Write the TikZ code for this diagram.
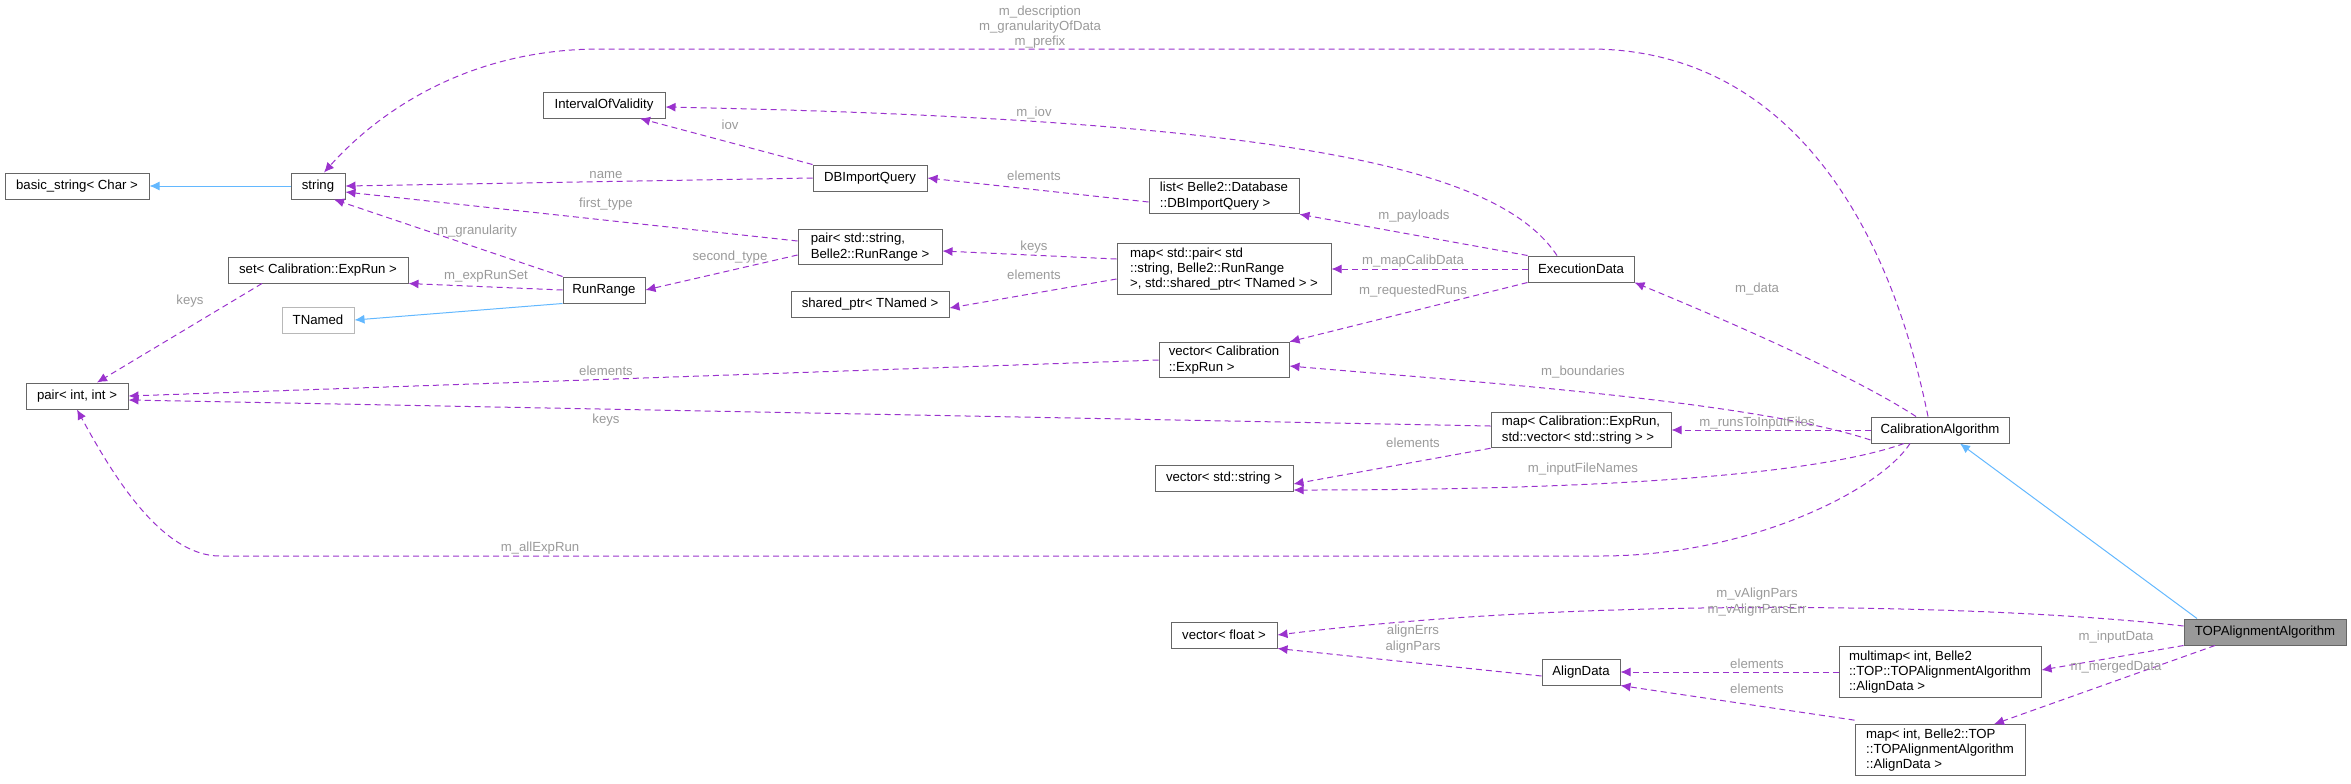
\documentclass[tikz,border=0pt]{standalone}
\usepackage{fontspec}
\setmainfont{Liberation Sans}
\usetikzlibrary{arrows.meta}
\definecolor{dep}{HTML}{9A32CD}
\definecolor{inh}{HTML}{63B8FF}
\definecolor{lblc}{HTML}{9A9A9A}
\definecolor{bord}{HTML}{666666}
\begin{document}
\begin{tikzpicture}[x=0.5pt,y=-0.5pt,
  box/.style={draw=bord,fill=white,line width=0.5pt,minimum height=13pt,inner sep=2pt,font=\fontsize{6.6}{7.6}\selectfont,align=left},
  lbl/.style={text=lblc,font=\fontsize{6.6}{7.6}\selectfont,align=center,inner sep=0pt},
  dp/.style={draw=dep,dashed,dash pattern=on 3pt off 2pt,line width=0.5pt,-{Latex[length=5pt,width=4.5pt]}},
  ih/.style={draw=inh,line width=0.5pt,-{Latex[length=5pt,width=4.5pt]}}]
\useasboundingbox (0,0) rectangle (2351,783);
% nodes
\node[box,minimum width=72pt] (bs) at (77,186) {basic\_string< Char >};
\node[box,minimum width=27pt] (str) at (318,186) {string};
\node[box,minimum width=61pt] (iov) at (604,105) {IntervalOfValidity};
\node[box,minimum width=57pt] (dbq) at (870,178) {DBImportQuery};
\node[box,minimum width=72pt] (pstr) at (870,247) {pair< std::string,\\ Belle2::RunRange >};
\node[box,minimum width=90pt] (set) at (318,270) {set< Calibration::ExpRun >};
\node[box,minimum width=41pt] (rr) at (604,290) {RunRange};
\node[box,draw=lblc!70,minimum width=36pt] (tn) at (318,320) {TNamed};
\node[box,minimum width=79pt] (sp) at (870,304) {shared\_ptr< TNamed >};
\node[box,minimum width=51pt] (pii) at (77,396) {pair< int, int >};
\node[box,minimum width=75pt] (lst) at (1224,196) {list< Belle2::Database\\ ::DBImportQuery >};
\node[box,minimum width=107pt] (mp) at (1224,269) {map< std::pair< std\\ ::string, Belle2::RunRange\\ >, std::shared\_ptr< TNamed > >};
\node[box,minimum width=53pt] (ex) at (1581,269) {ExecutionData};
\node[box,minimum width=65pt] (ve) at (1224,360) {vector< Calibration\\ ::ExpRun >};
\node[box,minimum width=90pt] (me) at (1581,430) {map< Calibration::ExpRun,\\ std::vector< std::string > >};
\node[box,minimum width=69pt] (ca) at (1940,430) {CalibrationAlgorithm};
\node[box,minimum width=69pt] (vs) at (1224,478) {vector< std::string >};
\node[box,minimum width=53pt] (vf) at (1224,635) {vector< float >};
\node[box,minimum width=39pt] (ad) at (1581,672) {AlignData};
\node[box,minimum width=101pt] (mm) at (1940,672) {multimap< int, Belle2\\ ::TOP::TOPAlignmentAlgorithm\\ ::AlignData >};
\node[box,minimum width=85pt] (mt) at (1940,750) {map< int, Belle2::TOP\\ ::TOPAlignmentAlgorithm\\ ::AlignData >};
\node[box,fill=black!40,minimum width=81pt] (top) at (2265,632) {TOPAlignmentAlgorithm};
% inheritance
\draw[ih] (str.west) -- (bs.east);
\draw[ih] (rr.south west) -- (tn.east);
\draw[ih] ([xshift=-34pt]top.north) -- ([xshift=10pt]ca.south);
% dependencies
\draw[dp] ([xshift=-6pt]ca.north) .. controls (1880,180) and (1760,49) .. (1590,49) -- (600,49) .. controls (470,49) and (380,110) .. ([xshift=3pt]str.north);
\draw[dp] ([xshift=-12pt]ca.north) .. controls (1860,380) and (1750,330) .. (ex.south east);
\draw[dp] ([yshift=-5pt]ca.west) .. controls (1750,400) and (1450,380) .. ([yshift=-3pt]ve.east);
\draw[dp] (ca.west) -- (me.east);
\draw[dp] ([xshift=-18pt]ca.south) .. controls (1830,470) and (1650,490) .. ([yshift=-6pt]vs.east);
\draw[dp] ([xshift=-15pt]ca.south) .. controls (1880,490) and (1750,556) .. (1600,556) -- (220,556) .. controls (160,556) and (110,470) .. (pii.south);
\draw[dp] ([xshift=-12pt]ex.north) .. controls (1500,170) and (1300,120) .. ([yshift=-1pt]iov.east);
\draw[dp] (ex.north west) -- (lst.south east);
\draw[dp] (ex.west) -- (mp.east);
\draw[dp] (ex.south west) -- (ve.north east);
\draw[dp] ([yshift=-3pt]lst.west) -- (dbq.east);
\draw[dp] ([yshift=5pt]mp.west) -- ([yshift=-2pt]pstr.east);
\draw[dp] ([yshift=-5pt]mp.west) -- ([yshift=-2pt]sp.east);
\draw[dp] (ve.west) -- (pii.east);
\draw[dp] ([yshift=2pt]me.west) -- ([yshift=-2pt]pii.east);
\draw[dp] (me.south west) -- ([yshift=-3pt]vs.east);
\draw[dp] (dbq.north west) -- ([xshift=18pt]iov.south);
\draw[dp] (dbq.west) -- (str.east);
\draw[dp] ([yshift=3pt]pstr.west) -- ([yshift=-3pt]str.east);
\draw[dp] ([yshift=-4pt]pstr.west) -- (rr.east);
\draw[dp] (rr.north west) -- ([xshift=8pt]str.south);
\draw[dp] (rr.west) -- (set.south east);
\draw[dp] ([xshift=-28pt]set.south) -- ([xshift=10pt]pii.north);
\draw[dp] ([yshift=3pt]top.west) .. controls (2000,605) and (1600,595) .. (vf.east);
\draw[dp] (top.south west) -- ([yshift=1pt]mm.east);
\draw[dp] ([xshift=-25pt]top.south) -- ([xshift=27pt]mt.north);
\draw[dp] ([yshift=-2pt]ad.west) -- (vf.south east);
\draw[dp] (mm.west) -- (ad.east);
\draw[dp] ([yshift=2pt]mt.north west) -- (ad.south east);
% labels
\node[lbl] (l1) at (1040,27) {m\_description\\ m\_granularityOfData\\ m\_prefix};
\node[lbl] (l2) at (1034,113) {m\_iov};
\node[lbl] (l3) at (1414,216) {m\_payloads};
\node[lbl] (l4) at (1413,261) {m\_mapCalibData};
\node[lbl] (l5) at (1413,291) {m\_requestedRuns};
\node[lbl] (l6) at (1757,289) {m\_data};
\node[lbl] (l7) at (1583,372) {m\_boundaries};
\node[lbl] (l8) at (1757,423) {m\_runsToInputFiles};
\node[lbl] (l9) at (1034,176) {elements};
\node[lbl] (l10) at (1034,247) {keys};
\node[lbl] (l11) at (1034,275) {elements};
\node[lbl] (l12) at (1413,443) {elements};
\node[lbl] (l13) at (1583,469) {m\_inputFileNames};
\node[lbl] (l14) at (606,371) {elements};
\node[lbl] (l15) at (606,420) {keys};
\node[lbl] (l16) at (540,548) {m\_allExpRun};
\node[lbl] (l17) at (730,125) {iov};
\node[lbl] (l18) at (606,175) {name};
\node[lbl] (l19) at (606,204) {first\_type};
\node[lbl] (l20) at (477,231) {m\_granularity};
\node[lbl] (l21) at (730,257) {second\_type};
\node[lbl] (l22) at (486,276) {m\_expRunSet};
\node[lbl] (l23) at (190,301) {keys};
\node[lbl] (l24) at (1757,602) {m\_vAlignPars\\ m\_vAlignParsErr};
\node[lbl] (l25) at (1413,639) {alignErrs\\ alignPars};
\node[lbl] (l26) at (1757,664) {elements};
\node[lbl] (l27) at (1757,689) {elements};
\node[lbl] (l28) at (2116,637) {m\_inputData};
\node[lbl] (l29) at (2116,667) {m\_mergedData};
\end{tikzpicture}
\end{document}
